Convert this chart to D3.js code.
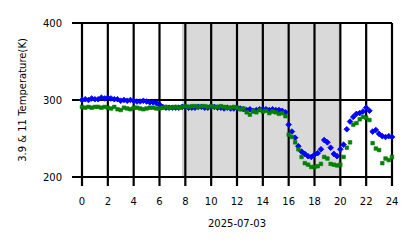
<!DOCTYPE html>
<html>
<head>
<meta charset="utf-8">
<script src="https://cdn.jsdelivr.net/npm/d3@7"></script>
<style>
  body { margin: 0; background: #fff; }
  svg { display: block; font-family: "DejaVu Sans", sans-serif; }
</style>
</head>
<body>
<div id="chart"></div>
<script>
// sample times (hours, UTC) on 2025-07-03
const hours = [
  0, 0.25, 0.5, 0.75, 1, 1.25, 1.5, 1.75, 2, 2.25, 2.5, 2.75,
  3, 3.25, 3.5, 3.75, 4, 4.25, 4.5, 4.75, 5, 5.25, 5.5, 5.75,
  6, 6.25, 6.5, 6.75, 7, 7.25, 7.5, 7.75, 8, 8.25, 8.5, 8.75,
  9, 9.25, 9.5, 9.75, 10, 10.25, 10.5, 10.75, 11, 11.25, 11.5, 11.75,
  12, 12.25, 12.5, 12.75, 13, 13.25, 13.5, 13.75, 14, 14.25, 14.5, 14.75,
  15, 15.25, 15.5, 15.75, 16, 16.25, 16.5, 16.75, 17, 17.25, 17.5, 17.75,
  18, 18.25, 18.5, 18.75, 19, 19.25, 19.5, 19.75, 20, 20.25, 20.5, 20.75,
  21, 21.25, 21.5, 21.75, 22, 22.25, 22.5, 22.75, 23, 23.25, 23.5, 23.75, 24
];

// 3.9 um brightness temperature (K)
const t39 = [
  300, 301, 300, 302, 301, 301, 303, 302, 303, 302, 301, 301,
  299, 300, 299, 300, 299, 298, 298, 299, 298, 297, 297, 296,
  294, 291, 290, 290, 290, 290, 290, 291, 291, 290, 290, 290,
  291, 291, 290, 290, 291, 291, 290, 290, 289, 290, 289, 289,
  290, 289, 288, 287, 288, 286, 287, 288, 288, 288, 287, 288,
  287, 287, 286, 284, 268, 259, 251, 240, 233, 230, 227, 226,
  229, 231, 236, 248, 245, 238, 230, 227, 236, 242, 262, 272,
  278, 282, 283, 285, 290, 286, 259, 261, 256, 253, 252, 253, 252
];

// 11 um brightness temperature (K)
const t11 = [
  291, 290, 291, 290, 291, 291, 290, 291, 290, 289, 291, 288,
  287, 290, 289, 288, 290, 290, 289, 288, 289, 290, 290, 289,
  289, 290, 291, 290, 290, 291, 290, 291, 292, 291, 292, 292,
  291, 292, 292, 291, 292, 291, 291, 292, 291, 290, 290, 291,
  290, 288, 289, 284, 281, 286, 284, 287, 285, 286, 283, 285,
  284, 282, 283, 279, 255, 252, 245, 236, 226, 218, 216, 213,
  213, 214, 217, 226, 224, 217, 216, 215, 216, 226, 238, 245,
  268, 270, 275, 278, 277, 274, 244, 237, 235, 218, 224, 222, 226
];

// night period shading (hours)
const night = [7.8, 19.9];

const xTicks = [0, 2, 4, 6, 8, 10, 12, 14, 16, 18, 20, 22, 24];
const yTicks = [200, 300, 400];
const dateLabel = '2025-07-03';
const yLabel = '3.9 & 11 Temperature(K)';

const width = 418;
const height = 248;

const x = d3.scaleLinear().domain([0, 24]).range([82, 392]);
const y = d3.scaleLinear().domain([200, 400]).range([177, 23]);

const svg = d3.select('#chart')
  .append('svg')
  .attr('width', width)
  .attr('height', height);

// night shading
svg.append('rect')
  .attr('x', x(night[0]))
  .attr('y', y(400))
  .attr('width', x(night[1]) - x(night[0]))
  .attr('height', y(200) - y(400))
  .attr('fill', '#d9d9d9')
  .attr('stroke', '#c4c4c4')
  .attr('stroke-width', 1);

// grid
svg.append('g')
  .selectAll('line')
  .data(xTicks)
  .enter()
  .append('line')
  .attr('x1', d => x(d))
  .attr('x2', d => x(d))
  .attr('y1', y(400))
  .attr('y2', y(200) + 9)
  .attr('stroke', '#000')
  .attr('stroke-width', 2.2);

svg.append('g')
  .selectAll('line')
  .data(yTicks)
  .enter()
  .append('line')
  .attr('x1', x(0) - 10)
  .attr('x2', x(24))
  .attr('y1', d => y(d))
  .attr('y2', d => y(d))
  .attr('stroke', '#000')
  .attr('stroke-width', 2.2);

// data
const pts = hours.map((h, i) => ({h, a: t39[i], b: t11[i]}));

const diamond = d3.symbol().type(d3.symbolSquare).size(16);
svg.append('g')
  .selectAll('path')
  .data(pts.filter(d => d.a != null))
  .enter()
  .append('path')
  .attr('d', diamond)
  .attr('transform', d => 'translate(' + x(d.h) + ',' + y(d.a) + ') rotate(45)')
  .attr('fill', '#0000ff')
  .attr('stroke', '#0000ff')
  .attr('stroke-width', 0.8);

const square = d3.symbol().type(d3.symbolSquare).size(13);
svg.append('g')
  .selectAll('path')
  .data(pts.filter(d => d.b != null))
  .enter()
  .append('path')
  .attr('d', square)
  .attr('transform', d => 'translate(' + x(d.h) + ',' + y(d.b) + ')')
  .attr('fill', '#008000')
  .attr('stroke', '#008000')
  .attr('stroke-width', 0.6);

// tick labels
svg.append('g')
  .selectAll('text')
  .data(xTicks)
  .enter()
  .append('text')
  .attr('x', d => x(d))
  .attr('y', 205)
  .attr('text-anchor', 'middle')
  .attr('font-size', 10)
  .text(d => d);

svg.append('g')
  .selectAll('text')
  .data(yTicks)
  .enter()
  .append('text')
  .attr('x', 62)
  .attr('y', d => y(d) + 3.6)
  .attr('text-anchor', 'end')
  .attr('font-size', 10)
  .text(d => d);

svg.append('text')
  .attr('x', x(12))
  .attr('y', 227)
  .attr('text-anchor', 'middle')
  .attr('font-size', 10)
  .text(dateLabel);

svg.append('text')
  .attr('transform', 'translate(26,' + y(300) + ') rotate(-90)')
  .attr('text-anchor', 'middle')
  .attr('font-size', 10)
  .text(yLabel);
</script>
</body>
</html>
